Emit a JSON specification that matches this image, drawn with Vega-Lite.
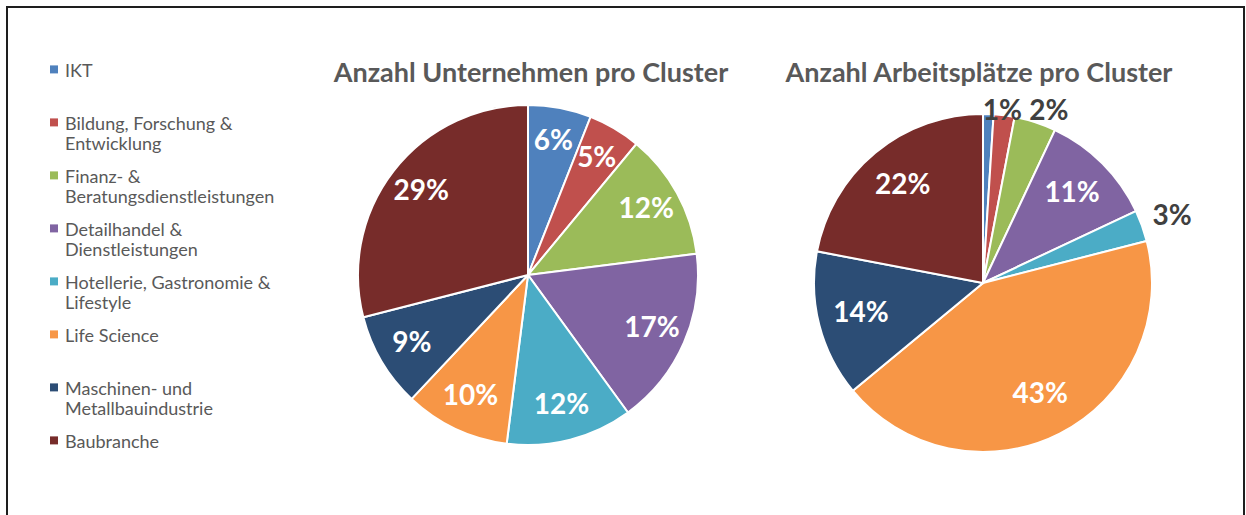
{
  "$schema": "https://vega.github.io/schema/vega-lite/v6.json",
  "autosize": "none",
  "width": 1237,
  "height": 520,
  "padding": {"left": 7, "top": 7, "right": 2, "bottom": 0},
  "background": "white",
  "config": {
    "view": {"stroke": "#1e1e1e", "strokeWidth": 2, "fill": "white"},
    "legend": {
      "orient": "none",
      "legendX": 38,
      "legendY": 47,
      "symbolType": "M-1,0.6H1V2.6H-1Z",
      "symbolSize": 64,
      "symbolStrokeWidth": 0,
      "labelFont": "Lato",
      "labelFontSize": 18,
      "labelColor": "#595959",
      "labelBaseline": "top",
      "labelOffset": 2,
      "rowPadding": 6,
      "labelLimit": 400,
      "padding": 0
    }
  },
  "datasets": {
    "pies": [
      {"chart": "Unternehmen", "cluster": "IKT", "value": 0.06, "ord": 1},
      {"chart": "Unternehmen", "cluster": "Bildung, Forschung & Entwicklung", "value": 0.05, "ord": 2},
      {"chart": "Unternehmen", "cluster": "Finanz- & Beratungsdienstleistungen", "value": 0.12, "ord": 3},
      {"chart": "Unternehmen", "cluster": "Detailhandel & Dienstleistungen", "value": 0.17, "ord": 4},
      {"chart": "Unternehmen", "cluster": "Hotellerie, Gastronomie & Lifestyle", "value": 0.12, "ord": 5},
      {"chart": "Unternehmen", "cluster": "Life Science", "value": 0.10, "ord": 6},
      {"chart": "Unternehmen", "cluster": "Maschinen- und Metallbauindustrie", "value": 0.09, "ord": 7},
      {"chart": "Unternehmen", "cluster": "Baubranche", "value": 0.29, "ord": 8},
      {"chart": "Arbeitsplätze", "cluster": "IKT", "value": 0.01, "ord": 1},
      {"chart": "Arbeitsplätze", "cluster": "Bildung, Forschung & Entwicklung", "value": 0.02, "ord": 2},
      {"chart": "Arbeitsplätze", "cluster": "Finanz- & Beratungsdienstleistungen", "value": 0.04, "ord": 3},
      {"chart": "Arbeitsplätze", "cluster": "Detailhandel & Dienstleistungen", "value": 0.11, "ord": 4},
      {"chart": "Arbeitsplätze", "cluster": "Hotellerie, Gastronomie & Lifestyle", "value": 0.03, "ord": 5},
      {"chart": "Arbeitsplätze", "cluster": "Life Science", "value": 0.43, "ord": 6},
      {"chart": "Arbeitsplätze", "cluster": "Maschinen- und Metallbauindustrie", "value": 0.14, "ord": 7},
      {"chart": "Arbeitsplätze", "cluster": "Baubranche", "value": 0.22, "ord": 8}
    ],
    "titles": [
      {"chart": "Unternehmen", "title": "Anzahl Unternehmen pro Cluster"},
      {"chart": "Arbeitsplätze", "title": "Anzahl Arbeitsplätze pro Cluster"}
    ]
  },
  "encoding": {
    "x": {"field": "chart", "type": "nominal", "scale": {"type": "point", "domain": ["Unternehmen", "Arbeitsplätze"], "range": [521, 976], "padding": 0}, "axis": null},
    "y": {"field": "chart", "type": "nominal", "scale": {"type": "point", "domain": ["Unternehmen", "Arbeitsplätze"], "range": [268, 276], "padding": 0}, "axis": null}
  },
  "layer": [
    {
      "data": {"name": "pies"},
      "transform": [{"filter": "datum.chart == 'Unternehmen'"}],
      "mark": {"type": "arc", "outerRadius": 170, "stroke": "white", "strokeWidth": 2},
      "encoding": {
        "theta": {"field": "value", "type": "quantitative", "stack": true, "scale": {"domain": [0, 1]}},
        "order": {"field": "ord", "type": "quantitative"},
        "color": {
          "field": "cluster", "type": "nominal",
          "scale": {
            "domain": ["IKT", "Bildung, Forschung & Entwicklung", "Finanz- & Beratungsdienstleistungen", "Detailhandel & Dienstleistungen", "Hotellerie, Gastronomie & Lifestyle", "Life Science", "Maschinen- und Metallbauindustrie", "Baubranche"],
            "range": ["#4F81BD", "#C0504D", "#9BBB59", "#8064A2", "#4BACC6", "#F79646", "#2C4D75", "#772C2A"]
          },
          "legend": {
            "title": null,
            "labelExpr": "datum.label == 'IKT' ? ['IKT', ''] : datum.label == 'Bildung, Forschung & Entwicklung' ? ['Bildung, Forschung &', 'Entwicklung'] : datum.label == 'Finanz- & Beratungsdienstleistungen' ? ['Finanz- &', 'Beratungsdienstleistungen'] : datum.label == 'Detailhandel & Dienstleistungen' ? ['Detailhandel &', 'Dienstleistungen'] : datum.label == 'Hotellerie, Gastronomie & Lifestyle' ? ['Hotellerie, Gastronomie &', 'Lifestyle'] : datum.label == 'Life Science' ? ['Life Science', ''] : datum.label == 'Maschinen- und Metallbauindustrie' ? ['Maschinen- und', 'Metallbauindustrie'] : datum.label"
          }
        }
      }
    },
    {
      "data": {"name": "pies"},
      "transform": [{"filter": "datum.chart == 'Arbeitsplätze'"}],
      "mark": {"type": "arc", "outerRadius": 169, "stroke": "white", "strokeWidth": 2},
      "encoding": {
        "theta": {"field": "value", "type": "quantitative", "stack": true},
        "order": {"field": "ord", "type": "quantitative"},
        "color": {"field": "cluster", "type": "nominal"}
      }
    },
    {
      "data": {"name": "pies"},
      "transform": [{"filter": "datum.chart == 'Unternehmen'"}],
      "mark": {"type": "text", "radius": 135, "font": "Lato", "fontWeight": "bold", "fontSize": 28, "color": "white", "baseline": "middle", "align": "center"},
      "encoding": {
        "theta": {"field": "value", "type": "quantitative", "stack": true},
        "order": {"field": "ord", "type": "quantitative"},
        "text": {"field": "value", "type": "quantitative", "format": ".0%"}
      }
    },
    {
      "data": {"name": "pies"},
      "transform": [{"filter": "datum.chart == 'Arbeitsplätze'"}],
      "mark": {"type": "text", "radius": 126, "font": "Lato", "fontWeight": "bold", "fontSize": 28, "color": "white", "baseline": "middle", "align": "center"},
      "encoding": {
        "theta": {"field": "value", "type": "quantitative", "stack": true},
        "order": {"field": "ord", "type": "quantitative"},
        "text": {"field": "value", "type": "quantitative", "format": ".0%"},
        "opacity": {"condition": {"test": "datum.value < 0.05", "value": 0}, "value": 1}
      }
    },
    {
      "data": {"name": "pies"},
      "transform": [{"filter": "datum.chart == 'Arbeitsplätze'"}],
      "mark": {"type": "text", "radius": 173, "dx": 14, "dy": 2, "font": "Lato", "fontWeight": "bold", "fontSize": 28, "color": "#404040", "baseline": "middle", "align": "center"},
      "encoding": {
        "theta": {"field": "value", "type": "quantitative", "stack": true},
        "order": {"field": "ord", "type": "quantitative"},
        "text": {"field": "value", "type": "quantitative", "format": ".0%"},
        "opacity": {"condition": {"test": "datum.cluster == 'IKT'", "value": 1}, "value": 0}
      }
    },
    {
      "data": {"name": "pies"},
      "transform": [{"filter": "datum.chart == 'Arbeitsplätze'"}],
      "mark": {"type": "text", "radius": 174, "dx": 44, "dy": 2, "font": "Lato", "fontWeight": "bold", "fontSize": 28, "color": "#404040", "baseline": "middle", "align": "center"},
      "encoding": {
        "theta": {"field": "value", "type": "quantitative", "stack": true},
        "order": {"field": "ord", "type": "quantitative"},
        "text": {"field": "value", "type": "quantitative", "format": ".0%"},
        "opacity": {"condition": {"test": "datum.cluster == 'Bildung, Forschung & Entwicklung'", "value": 1}, "value": 0}
      }
    },
    {
      "data": {"name": "pies"},
      "transform": [{"filter": "datum.chart == 'Arbeitsplätze'"}],
      "mark": {"type": "text", "radius": 201, "dy": 2, "font": "Lato", "fontWeight": "bold", "fontSize": 28, "color": "#404040", "baseline": "middle", "align": "center"},
      "encoding": {
        "theta": {"field": "value", "type": "quantitative", "stack": true},
        "order": {"field": "ord", "type": "quantitative"},
        "text": {"field": "value", "type": "quantitative", "format": ".0%"},
        "opacity": {"condition": {"test": "datum.cluster == 'Hotellerie, Gastronomie & Lifestyle'", "value": 1}, "value": 0}
      }
    },
    {
      "data": {"name": "titles"},
      "transform": [{"filter": "datum.chart == 'Unternehmen'"}],
      "mark": {"type": "text", "dy": -201, "dx": 3, "font": "Lato", "fontWeight": "bold", "fontSize": 27, "color": "#595959", "baseline": "middle", "align": "center"},
      "encoding": {"text": {"field": "title", "type": "nominal"}}
    },
    {
      "data": {"name": "titles"},
      "transform": [{"filter": "datum.chart == 'Arbeitsplätze'"}],
      "mark": {"type": "text", "dy": -209, "dx": -4, "font": "Lato", "fontWeight": "bold", "fontSize": 27, "color": "#595959", "baseline": "middle", "align": "center"},
      "encoding": {"text": {"field": "title", "type": "nominal"}}
    }
  ]
}
